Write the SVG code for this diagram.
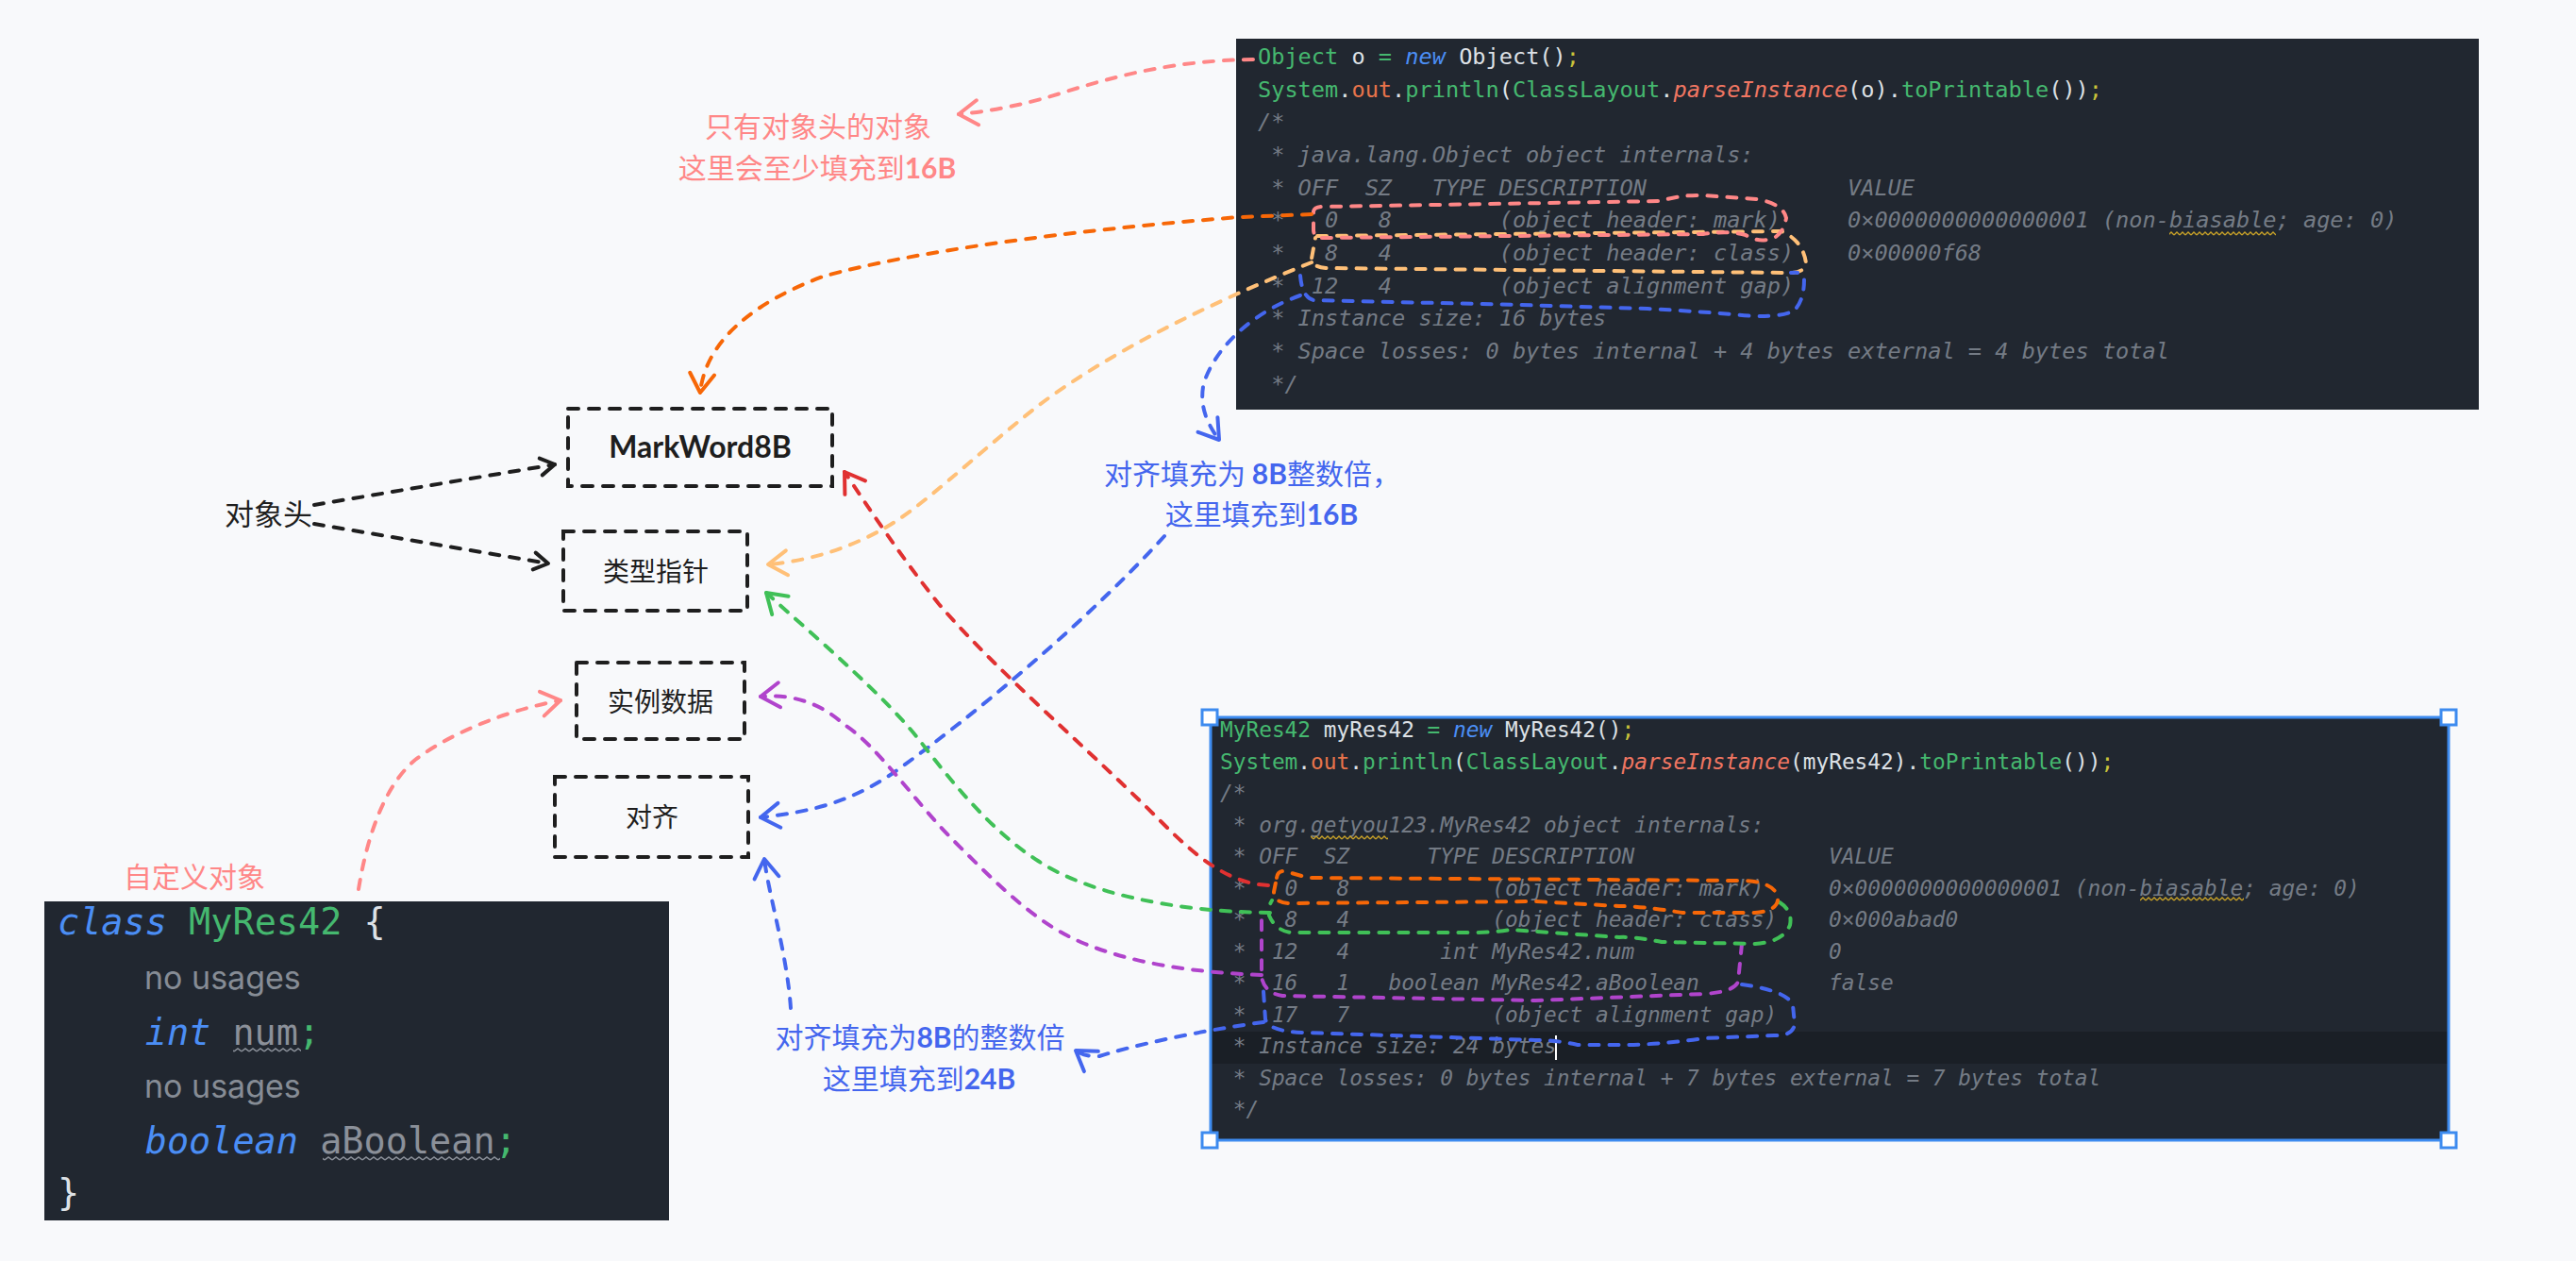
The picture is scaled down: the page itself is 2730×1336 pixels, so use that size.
<svg xmlns="http://www.w3.org/2000/svg" width="2730" height="1336" viewBox="0 0 2730 1336">
<style>
.mono{font-family:"DejaVu Sans Mono","Liberation Mono",monospace;white-space:pre}
.t{font-size:23.6px}
.b{font-size:22.8px}
.l{font-size:38.5px}
.cm{fill:#747b85;font-style:italic}
.g{fill:#45b86f}
.kw{fill:#4b8ef5;font-style:italic}
.w{fill:#dde1e6}
.o{fill:#e8744b}
.fn{fill:#f07662;font-style:italic}
.y{fill:#c9c23a}
.gr{fill:#8b9099}
.cjk{font-family:"Noto Sans CJK SC","Noto Sans",sans-serif}
.hb{font-family:Lato,"Liberation Sans",sans-serif;font-weight:bold}
.box{fill:none;stroke:#1e1e1e;stroke-width:4;stroke-dasharray:11 11;stroke-linecap:round}
.dash{fill:none;stroke-width:4;stroke-dasharray:10 11;stroke-linecap:round;stroke-linejoin:round}
.ntext{font-size:28px;fill:#1e1e1e;text-anchor:middle}
</style>
<defs>
<pattern id="wavyY" width="6" height="5" patternUnits="userSpaceOnUse"><path d="M0,4 L3,1 L6,4" fill="none" stroke="#c9a227" stroke-width="1.3"/></pattern>
<pattern id="wavyG" width="8" height="5" patternUnits="userSpaceOnUse"><path d="M0,4 L4,1 L8,4" fill="none" stroke="#8b9099" stroke-width="1.5"/></pattern>
<marker id="m-black" viewBox="-30 -20 40 40" refX="0" refY="0" markerWidth="40" markerHeight="40" markerUnits="userSpaceOnUse" orient="auto"><path d="M-15,-9 L0,0 L-15,9" fill="none" stroke="#1e1e1e" stroke-width="4" stroke-linecap="round" stroke-linejoin="round"/></marker>
<marker id="m-pink" viewBox="-30 -20 40 40" refX="0" refY="0" markerWidth="40" markerHeight="40" markerUnits="userSpaceOnUse" orient="auto"><path d="M-20,-13 L0,0 L-20,13" fill="none" stroke="#ff8787" stroke-width="4" stroke-linecap="round" stroke-linejoin="round"/></marker>
<marker id="m-orange" viewBox="-30 -20 40 40" refX="0" refY="0" markerWidth="40" markerHeight="40" markerUnits="userSpaceOnUse" orient="auto"><path d="M-20,-13 L0,0 L-20,13" fill="none" stroke="#f76707" stroke-width="4" stroke-linecap="round" stroke-linejoin="round"/></marker>
<marker id="m-lorange" viewBox="-30 -20 40 40" refX="0" refY="0" markerWidth="40" markerHeight="40" markerUnits="userSpaceOnUse" orient="auto"><path d="M-20,-13 L0,0 L-20,13" fill="none" stroke="#ffc078" stroke-width="4" stroke-linecap="round" stroke-linejoin="round"/></marker>
<marker id="m-blue" viewBox="-30 -20 40 40" refX="0" refY="0" markerWidth="40" markerHeight="40" markerUnits="userSpaceOnUse" orient="auto"><path d="M-20,-13 L0,0 L-20,13" fill="none" stroke="#4466ee" stroke-width="4" stroke-linecap="round" stroke-linejoin="round"/></marker>
<marker id="m-red" viewBox="-30 -20 40 40" refX="0" refY="0" markerWidth="40" markerHeight="40" markerUnits="userSpaceOnUse" orient="auto"><path d="M-20,-13 L0,0 L-20,13" fill="none" stroke="#e03131" stroke-width="4" stroke-linecap="round" stroke-linejoin="round"/></marker>
<marker id="m-green" viewBox="-30 -20 40 40" refX="0" refY="0" markerWidth="40" markerHeight="40" markerUnits="userSpaceOnUse" orient="auto"><path d="M-20,-13 L0,0 L-20,13" fill="none" stroke="#40c057" stroke-width="4" stroke-linecap="round" stroke-linejoin="round"/></marker>
<marker id="m-purple" viewBox="-30 -20 40 40" refX="0" refY="0" markerWidth="40" markerHeight="40" markerUnits="userSpaceOnUse" orient="auto"><path d="M-20,-13 L0,0 L-20,13" fill="none" stroke="#b044cc" stroke-width="4" stroke-linecap="round" stroke-linejoin="round"/></marker>
</defs>
<rect x="0" y="0" width="2730" height="1336" fill="#f8f9fb"/>

<g id="code-top" xml:space="preserve">
<rect x="1310" y="41" width="1317" height="393" fill="#212730"/>
<text class="mono t" x="1333" y="68"><tspan class="g">Object</tspan><tspan class="w"> o </tspan><tspan class="g">=</tspan><tspan class="w"> </tspan><tspan class="kw">new</tspan><tspan class="w"> Object()</tspan><tspan class="y">;</tspan></text>
<text class="mono t" x="1333" y="102.6"><tspan class="g">System</tspan><tspan class="w">.</tspan><tspan class="o">out</tspan><tspan class="w">.</tspan><tspan class="g">println</tspan><tspan class="w">(</tspan><tspan class="g">ClassLayout</tspan><tspan class="w">.</tspan><tspan class="fn">parseInstance</tspan><tspan class="w">(o).</tspan><tspan class="g">toPrintable</tspan><tspan class="w">())</tspan><tspan class="y">;</tspan></text>
<text class="mono t cm" x="1333" y="137.3">/*</text>
<text class="mono t cm" x="1333" y="171.9"> * java.lang.Object object internals:</text>
<text class="mono t cm" x="1333" y="206.6"> * OFF  SZ   TYPE DESCRIPTION               VALUE</text>
<text class="mono t cm" x="1333" y="241.2"> *   0   8        (object header: mark)     0×0000000000000001 (non-biasable; age: 0)</text>
<text class="mono t cm" x="1333" y="275.9"> *   8   4        (object header: class)    0×00000f68</text>
<text class="mono t cm" x="1333" y="310.5"> *  12   4        (object alignment gap)</text>
<text class="mono t cm" x="1333" y="345.2"> * Instance size: 16 bytes</text>
<text class="mono t cm" x="1333" y="379.8"> * Space losses: 0 bytes internal + 4 bytes external = 4 bytes total</text>
<text class="mono t cm" x="1333" y="414.5"> */</text>
<rect x="2299" y="245" width="113" height="5" fill="url(#wavyY)"/>
<path class="dash" stroke="#ffc078" d="M1396,250 L1888,245 Q1911,255 1914,279 Q1912,289 1898,289 L1405,284 Q1391,283 1390,274 L1394,252"/>
<path class="dash" stroke="#ff8787" d="M1392,224 Q1393,219 1402,219 L1760,213 Q1782,206 1805,207 L1862,211 Q1890,216 1893,231 Q1890,247 1880,252 Q1864,258 1850,249 Q1832,244 1805,248 L1400,252 Q1392,252 1392,243 Z"/>
<path class="dash" stroke="#4466ee" d="M1378,292 Q1380,315 1392,318 L1612,323 L1746,327 Q1800,330 1836,333 Q1880,338 1900,330 Q1912,320 1912,296 Q1910,287 1898,289"/>
</g>

<g id="code-bottom" xml:space="preserve">
<rect x="1283" y="760" width="1312" height="448" fill="#212730"/>
<rect x="1283" y="1093" width="1312" height="34" fill="#1a1f26"/>
<text class="mono b" x="1293" y="781"><tspan class="g">MyRes42</tspan><tspan class="w"> myRes42 </tspan><tspan class="g">=</tspan><tspan class="w"> </tspan><tspan class="kw">new</tspan><tspan class="w"> MyRes42()</tspan><tspan class="y">;</tspan></text>
<text class="mono b" x="1293" y="814.5"><tspan class="g">System</tspan><tspan class="w">.</tspan><tspan class="o">out</tspan><tspan class="w">.</tspan><tspan class="g">println</tspan><tspan class="w">(</tspan><tspan class="g">ClassLayout</tspan><tspan class="w">.</tspan><tspan class="fn">parseInstance</tspan><tspan class="w">(myRes42).</tspan><tspan class="g">toPrintable</tspan><tspan class="w">())</tspan><tspan class="y">;</tspan></text>
<text class="mono b cm" x="1293" y="848">/*</text>
<text class="mono b cm" x="1293" y="881.5"> * org.getyou123.MyRes42 object internals:</text>
<text class="mono b cm" x="1293" y="915"> * OFF  SZ      TYPE DESCRIPTION               VALUE</text>
<text class="mono b cm" x="1293" y="948.5"> *   0   8           (object header: mark)     0×0000000000000001 (non-biasable; age: 0)</text>
<text class="mono b cm" x="1293" y="982"> *   8   4           (object header: class)    0×000abad0</text>
<text class="mono b cm" x="1293" y="1015.5"> *  12   4       int MyRes42.num               0</text>
<text class="mono b cm" x="1293" y="1049"> *  16   1   boolean MyRes42.aBoolean          false</text>
<text class="mono b cm" x="1293" y="1082.5"> *  17   7           (object alignment gap)</text>
<text class="mono b cm" x="1293" y="1116"> * Instance size: 24 bytes</text>
<text class="mono b cm" x="1293" y="1149.5"> * Space losses: 0 bytes internal + 7 bytes external = 7 bytes total</text>
<text class="mono b cm" x="1293" y="1183"> */</text>
<line x1="1649" y1="1097" x2="1649" y2="1123" stroke="#ffffff" stroke-width="2"/>
<rect x="1389" y="885" width="82" height="5" fill="url(#wavyY)"/>
<rect x="2268" y="950" width="110" height="5" fill="url(#wavyY)"/>
<path class="dash" stroke="#b044cc" d="M1846,1000 L1842,1040 Q1838,1051 1806,1053 L1627,1060 L1359,1055 Q1340,1052 1337,1035 L1337,972"/>
<path class="dash" stroke="#4466ee" d="M1846,1043 Q1895,1050 1900,1065 L1902,1085 Q1900,1098 1880,1097 L1806,1100 Q1760,1107 1716,1107 L1672,1107 Q1650,1102 1627,1102 L1382,1094 Q1345,1093 1341,1080 L1339,1050"/>
<path class="dash" stroke="#40c057" d="M1886,956 Q1900,965 1897,980 Q1890,998 1860,1000 L1761,998 Q1730,992 1716,993 L1600,985 Q1585,988 1556,988 L1368,988 Q1352,986 1345,970 Q1344,960 1348,954"/>
<path class="dash" stroke="#f76707" d="M1353,930 Q1354,922 1362,923 L1386,930 L1850,933 Q1880,935 1884,950 Q1886,965 1860,967 L1783,967 Q1740,960 1716,960 L1627,955 L1368,957 Q1350,957 1350,945 Z"/>
<rect x="1283" y="760" width="1312" height="448" fill="none" stroke="#3d8bef" stroke-width="3"/>
<rect x="1274" y="752" width="16" height="16" fill="#ffffff" stroke="#3d8bef" stroke-width="3"/>
<rect x="2587" y="752" width="16" height="16" fill="#ffffff" stroke="#3d8bef" stroke-width="3"/>
<rect x="1274" y="1200" width="16" height="16" fill="#ffffff" stroke="#3d8bef" stroke-width="3"/>
<rect x="2587" y="1200" width="16" height="16" fill="#ffffff" stroke="#3d8bef" stroke-width="3"/>
</g>

<g id="code-left" xml:space="preserve">
<rect x="47" y="955" width="662" height="338" fill="#212730"/>
<text class="mono l" x="61" y="990"><tspan class="kw">class</tspan><tspan class="w"> </tspan><tspan class="g">MyRes42</tspan><tspan class="w"> {</tspan></text>
<text x="153" y="1048" font-family="Inter,'Noto Sans',sans-serif" font-size="34" fill="#868c95">no usages</text>
<text class="mono l" x="61" y="1107"><tspan class="w">    </tspan><tspan class="kw">int</tspan><tspan class="gr"> num</tspan><tspan class="g">;</tspan></text>
<text x="153" y="1163" font-family="Inter,'Noto Sans',sans-serif" font-size="34" fill="#868c95">no usages</text>
<text class="mono l" x="61" y="1222"><tspan class="w">    </tspan><tspan class="kw">boolean</tspan><tspan class="gr"> aBoolean</tspan><tspan class="g">;</tspan></text>
<text class="mono l w" x="61" y="1277">}</text>
<rect x="247" y="1110" width="72" height="5" fill="url(#wavyG)"/>
<rect x="342" y="1225" width="188" height="5" fill="url(#wavyG)"/>
</g>

<g id="node-markword">
<rect class="box" x="602" y="433" width="280" height="82"/>
<text class="hb" x="742" y="485" font-size="32" fill="#1e1e1e" text-anchor="middle">MarkWord8B</text>
</g>
<g id="node-typeptr">
<rect class="box" x="597" y="563" width="195" height="84"/>
<text class="cjk ntext" x="695" y="616">类型指针</text>
</g>
<g id="node-instdata">
<rect class="box" x="611" y="702" width="178" height="81"/>
<text class="cjk ntext" x="700" y="754">实例数据</text>
</g>
<g id="node-align">
<rect class="box" x="588" y="823" width="205" height="85"/>
<text class="cjk ntext" x="691" y="876">对齐</text>
</g>

<g id="label-objhead">
<text class="cjk" x="238" y="556" font-size="31" fill="#1e1e1e">对象头</text>
</g>
<g id="label-only-header">
<text class="cjk" x="867" y="145" font-size="30" fill="#ff8787" text-anchor="middle">只有对象头的对象</text>
<text class="cjk" x="866" y="189" font-size="30" fill="#ff8787" text-anchor="middle">这里会至少填充到<tspan class="hb">16B</tspan></text>
</g>
<g id="label-align-top">
<text class="cjk" x="1327" y="513" font-size="30" fill="#4466ee" text-anchor="middle">对齐填充为 <tspan class="hb">8B</tspan>整数倍，</text>
<text class="cjk" x="1337" y="556" font-size="30" fill="#4466ee" text-anchor="middle">这里填充到<tspan class="hb">16B</tspan></text>
</g>
<g id="label-align-bottom">
<text class="cjk" x="975" y="1110" font-size="30" fill="#4466ee" text-anchor="middle">对齐填充为<tspan class="hb">8B</tspan>的整数倍</text>
<text class="cjk" x="974" y="1154" font-size="30" fill="#4466ee" text-anchor="middle">这里填充到<tspan class="hb">24B</tspan></text>
</g>
<g id="label-custom">
<text class="cjk" x="206" y="940" font-size="30" fill="#ff8787" text-anchor="middle">自定义对象</text>
</g>

<g id="connectors">
<path class="dash" stroke="#1e1e1e" d="M333,535 L588,492" marker-end="url(#m-black)"/>
<path class="dash" stroke="#1e1e1e" d="M333,555 L581,597" marker-end="url(#m-black)"/>
<path class="dash" stroke="#ff8787" d="M1328,63 C1250,64 1190,78 1130,97 C1090,110 1050,118 1016,121" marker-end="url(#m-pink)"/>
<path class="dash" stroke="#f76707" d="M1390,227 L1314,230 C1130,244 960,268 872,293 C800,320 748,360 742,416" marker-end="url(#m-orange)"/>
<path class="dash" stroke="#ffc078" d="M1390,278 C1290,318 1180,370 1100,430 C1030,485 975,540 933,562 C900,580 860,594 814,598" marker-end="url(#m-lorange)"/>
<path class="dash" stroke="#4466ee" d="M1378,313 C1330,330 1290,365 1276,405 C1270,430 1280,450 1292,466" marker-end="url(#m-blue)"/>
<path class="dash" stroke="#4466ee" d="M1234,568 C1150,660 1030,760 945,820 C900,850 860,860 806,866" marker-end="url(#m-blue)"/>
<path class="dash" stroke="#4466ee" d="M838,1068 C834,1010 815,950 810,910" marker-end="url(#m-blue)"/>
<path class="dash" stroke="#4466ee" d="M1339,1083 C1270,1092 1200,1108 1165,1119 Q1150,1120 1140,1113" marker-end="url(#m-blue)"/>
<path class="dash" stroke="#e03131" d="M1344,938 C1300,936 1265,905 1230,870 C1150,790 1060,715 995,640 C955,590 922,540 895,500" marker-end="url(#m-red)"/>
<path class="dash" stroke="#40c057" d="M1346,967 C1240,966 1150,945 1100,912 C1050,880 1010,830 975,785 C940,740 870,680 812,628" marker-end="url(#m-green)"/>
<path class="dash" stroke="#b044cc" d="M1337,1033 C1260,1030 1200,1020 1150,1000 C1100,980 1060,940 1010,890 C970,850 930,790 895,768 C870,745 840,735 806,738" marker-end="url(#m-purple)"/>
<path class="dash" stroke="#ff8787" d="M380,942 C390,880 410,830 440,805 C480,775 540,752 594,742" marker-end="url(#m-pink)"/>
</g>
</svg>
